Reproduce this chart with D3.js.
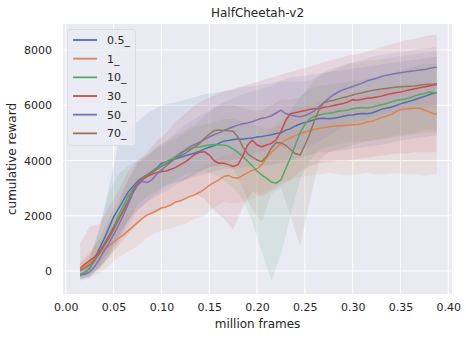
<!DOCTYPE html>
<html><head><meta charset="utf-8">
<script src="https://cdn.jsdelivr.net/npm/d3@7"></script>
<style>
html,body{margin:0;padding:0;background:#fff;}
svg{display:block;font-family:"DejaVu Sans",sans-serif;}
</style></head>
<body><svg id="c" width="466" height="338"></svg>
<script>
const title = "HalfCheetah-v2";
const seriesNames = ["0.5_", "1_", "10_", "30_", "50_", "70_"];
const colors = ["#4c72b0", "#dd8452", "#55a868", "#c44e52", "#8172b3", "#937860"];
const xTicks = [0.00,0.05,0.10,0.15,0.20,0.25,0.30,0.35,0.40];
const yTicks = [0,2000,4000,6000,8000];

const frames = [0.015,0.02,0.025,0.03,0.035,0.04,0.045,0.05,0.055,0.06,0.065,0.07,0.075,0.08,0.085,0.09,0.095,0.10,0.105,0.11,0.115,0.12,0.125,0.13,0.135,0.14,0.145,0.15,0.155,0.16,0.165,0.17,0.175,0.18,0.185,0.19,0.195,0.20,0.205,0.21,0.215,0.22,0.225,0.23,0.235,0.24,0.245,0.25,0.255,0.26,0.265,0.27,0.275,0.28,0.285,0.29,0.295,0.30,0.305,0.31,0.315,0.32,0.325,0.33,0.335,0.34,0.345,0.35,0.355,0.36,0.365,0.37,0.375,0.38,0.385,0.388];

const mean05 = [-150,-60,100,400,800,1150,1550,1950,2250,2550,2850,3050,3250,3380,3480,3600,3720,3900,3950,4000,4060,4120,4170,4220,4270,4340,4420,4480,4530,4620,4700,4720,4760,4780,4770,4800,4810,4850,4870,4900,4930,4980,5000,5100,5150,5250,5320,5380,5420,5480,5520,5530,5510,5530,5560,5600,5640,5650,5680,5700,5690,5720,5780,5850,5890,5930,5980,6050,6100,6150,6200,6260,6320,6380,6440,6460];
const mean1 = [0,150,300,450,600,780,900,1050,1180,1300,1450,1600,1750,1900,2020,2100,2180,2280,2320,2390,2500,2540,2620,2700,2760,2850,2960,3100,3200,3300,3420,3460,3380,3360,3460,3550,3640,3700,3850,4100,4300,4450,4620,4750,4820,4900,4970,5030,5080,5130,5160,5190,5220,5240,5260,5270,5280,5290,5300,5340,5400,5420,5480,5560,5600,5660,5760,5840,5870,5880,5890,5890,5830,5760,5690,5680];
const mean10 = [-120,-50,120,350,640,950,1250,1600,2000,2350,2700,2950,3200,3330,3450,3550,3700,3850,3950,4050,4150,4280,4350,4430,4480,4500,4530,4560,4580,4570,4560,4520,4420,4300,4150,3980,3800,3620,3480,3350,3220,3180,3300,3700,4100,4550,5000,5300,5500,5600,5650,5690,5710,5740,5780,5800,5830,5870,5900,5920,5900,5930,5980,6020,6050,6120,6170,6200,6230,6270,6340,6390,6420,6480,6460,6440];
const mean30 = [100,250,380,500,700,950,1250,1550,1850,2150,2500,2850,3150,3300,3420,3500,3560,3600,3620,3680,3750,3850,3950,4080,4220,4300,4320,4200,4000,3900,3900,3850,3780,3850,4150,4550,4740,4560,4500,4560,4620,4750,5050,5450,5700,5730,5770,5800,5850,5880,5860,5930,5950,5990,6030,6060,6120,6200,6180,6220,6250,6270,6300,6330,6380,6420,6450,6480,6520,6560,6600,6630,6660,6700,6730,6740];
const mean50 = [-150,-120,-30,150,420,720,1000,1320,1650,2000,2400,2800,3100,3250,3200,3300,3500,3650,3800,3950,4100,4250,4380,4500,4580,4660,4760,4850,4930,5000,5080,5150,5220,5280,5330,5360,5400,5470,5530,5560,5620,5720,5820,5700,5650,5600,5580,5620,5700,5800,5950,6100,6250,6380,6480,6560,6620,6680,6740,6800,6880,6930,6980,7040,7090,7110,7150,7180,7200,7230,7250,7280,7290,7330,7370,7380];
const mean70 = [40,100,220,400,620,900,1180,1500,1850,2200,2550,2900,3200,3350,3480,3560,3680,3780,3880,3980,4080,4180,4260,4380,4500,4620,4800,4950,5080,5100,5090,5080,5060,4850,4500,4250,4120,4020,3960,4150,4450,4650,4640,4550,4400,4250,4200,4550,4950,5450,5850,6100,6150,6180,6230,6280,6320,6370,6420,6450,6500,6530,6560,6590,6610,6630,6650,6670,6680,6690,6700,6720,6740,6760,6770,6780];

const bandFrames = [0.015,0.025,0.035,0.045,0.055,0.065,0.075,0.085,0.095,0.105,0.115,0.125,0.135,0.145,0.155,0.165,0.175,0.185,0.195,0.205,0.215,0.225,0.235,0.245,0.255,0.265,0.275,0.285,0.295,0.305,0.315,0.325,0.335,0.345,0.355,0.365,0.375,0.385,0.388];

const lo05 = [-300,-200,200,700,1300,1800,2200,2500,2800,3000,3200,3300,3400,3500,3600,3700,3700,3750,3800,3800,3850,3900,4000,4100,4200,4300,4300,4350,4400,4450,4500,4550,4600,4700,4750,4800,4850,4900,4900];
const hi05 = [0,500,1500,3000,4600,5200,5400,5700,5900,6050,6100,6200,6300,6400,6450,6500,6550,6650,6700,6750,6800,6900,7000,7050,7100,7150,7200,7250,7300,7350,7400,7450,7500,7550,7600,7650,7700,7750,7750];
const lo1 = [-300,-250,-100,200,500,700,900,1200,1400,1500,1600,1700,1900,2000,2300,2500,2450,2500,2600,2800,3000,3200,3300,3400,3450,3500,3550,3500,3450,3500,3550,3500,3500,3550,3500,3500,3450,3500,3500];
const hi1 = [300,700,1100,1500,1800,2100,2400,2700,2900,3000,3200,3400,3600,3800,4000,4200,4250,4400,4600,4800,5200,5500,5700,5900,6000,6100,6150,6200,6250,6300,6400,6500,6600,6700,6800,6850,6850,6800,6800];
const lo10 = [-250,-150,100,500,1100,1800,2400,2700,2900,3100,3300,3500,3600,3600,3500,3300,3000,2600,1800,700,-350,600,2000,3300,4000,4400,4500,4600,4650,4700,4700,4750,4800,4900,4950,5000,5100,5100,5100];
const hi10 = [100,400,1500,2800,3500,3800,4000,4200,4400,4600,4800,5000,5200,5300,5400,5500,5500,5400,5300,5200,5100,5300,5800,6300,6600,6700,6750,6800,6850,6900,6950,7000,7100,7200,7300,7400,7500,7500,7500];
const lo30 = [-200,-100,100,500,900,1300,1700,2000,2200,2300,2500,2600,2800,2600,2200,1900,1500,2300,2900,2700,2900,3100,3300,3600,3800,3900,3950,4000,4000,4050,4100,4150,4200,4250,4250,4300,4300,4300,4300];
const hi30 = [1000,1600,1700,2300,2900,3600,4000,4300,4700,5000,5400,5700,6000,6200,6350,6500,6600,6700,6800,6900,7000,7100,7200,7300,7400,7500,7600,7700,7800,7850,7950,8050,8150,8250,8350,8400,8500,8550,8550];
const lo50 = [-350,-250,100,500,1000,1600,2200,2500,2700,2900,3100,3300,3500,3700,3800,3900,4000,4100,4200,4300,4400,4500,4400,4400,4500,4700,4900,5100,5300,5400,5500,5600,5700,5750,5800,5850,5900,5950,5950];
const hi50 = [100,250,900,1700,2400,3300,3900,4100,4500,4700,5000,5300,5500,5700,5900,6100,6250,6400,6500,6600,6700,6850,6850,6850,6900,7050,7200,7350,7500,7600,7700,7800,7850,7900,7950,8000,8050,8100,8100];
const lo70 = [-250,-200,100,600,1200,1800,2400,2700,2900,3100,3200,3300,3500,3700,3800,3800,3700,3000,2200,1800,2800,3000,2000,900,2500,4000,4300,4400,4500,4600,4700,4750,4800,4850,4900,4950,5000,5000,5000];
const hi70 = [300,600,1200,1900,2600,3300,3900,4200,4500,4700,4900,5100,5300,5600,5900,6000,6000,5900,5800,5800,6000,6200,6200,6300,6700,7100,7300,7400,7500,7550,7600,7650,7700,7750,7800,7850,7900,7950,7950];

const means = [mean05, mean1, mean10, mean30, mean50, mean70];
const los = [lo05, lo1, lo10, lo30, lo50, lo70];
const his = [hi05, hi1, hi10, hi30, hi50, hi70];

const svg = d3.select("#c");
const m = {left: 63, right: 452, top: 24, bottom: 294};
const x = d3.scaleLinear().domain([-0.0029, 0.4039]).range([m.left, m.right]);
const y = d3.scaleLinear().domain([-833, 8941]).range([m.bottom, m.top]);
const txt = "#262626";

svg.append("rect").attr("x", m.left).attr("y", m.top).attr("width", m.right - m.left).attr("height", m.bottom - m.top).attr("fill", "#eaeaf2");

const grid = svg.append("g");
xTicks.forEach(t => grid.append("line").attr("x1", x(t)).attr("x2", x(t)).attr("y1", m.top).attr("y2", m.bottom).attr("stroke", "#fff").attr("stroke-width", 1));
yTicks.forEach(t => grid.append("line").attr("y1", y(t)).attr("y2", y(t)).attr("x1", m.left).attr("x2", m.right).attr("stroke", "#fff").attr("stroke-width", 1));

const xAxis = d3.axisBottom(x).tickValues(xTicks).tickFormat(d3.format(".2f")).tickSize(0).tickPadding(9);
const yAxis = d3.axisLeft(y).tickValues(yTicks).tickFormat(d3.format("d")).tickSize(0).tickPadding(11);
const gx = svg.append("g").attr("transform", `translate(0,${m.bottom})`).call(xAxis);
const gy = svg.append("g").attr("transform", `translate(${m.left},0)`).call(yAxis);
[gx, gy].forEach(g => { g.select(".domain").remove(); g.selectAll("text").attr("fill", txt).style("font-size", "11px").style("font-family", "DejaVu Sans"); });

const defs = svg.append("defs");
defs.append("clipPath").attr("id", "clip").append("rect").attr("x", m.left).attr("y", m.top).attr("width", m.right - m.left).attr("height", m.bottom - m.top);
const plot = svg.append("g").attr("clip-path", "url(#clip)");

seriesNames.forEach((n, i) => {
  const area = d3.area().x((d, j) => x(bandFrames[j])).y0((d, j) => y(los[i][j])).y1((d, j) => y(his[i][j]));
  plot.append("path").datum(bandFrames).attr("d", area).attr("fill", colors[i]).attr("fill-opacity", 0.12);
});
seriesNames.forEach((n, i) => {
  const line = d3.line().x((d, j) => x(frames[j])).y(d => y(d));
  plot.append("path").datum(means[i]).attr("d", line).attr("fill", "none").attr("stroke", colors[i]).attr("stroke-width", 1.5).attr("stroke-linejoin", "round");
});

svg.append("text").attr("x", (m.left + m.right) / 2).attr("y", 17).attr("text-anchor", "middle").attr("fill", txt).style("font-size", "12px").text(title);
svg.append("text").attr("x", (m.left + m.right) / 2).attr("y", 328).attr("text-anchor", "middle").attr("fill", txt).style("font-size", "12px").text("million frames");
svg.append("text").attr("transform", `translate(16,${(m.top + m.bottom) / 2}) rotate(-90)`).attr("text-anchor", "middle").attr("fill", txt).style("font-size", "12px").text("cumulative reward");

const lg = svg.append("g");
lg.append("rect").attr("x", 67.5).attr("y", 29.5).attr("width", 68).attr("height", 116).attr("rx", 3).attr("fill", "#ebebf3").attr("fill-opacity", 0.85).attr("stroke", "#dcdce4").attr("stroke-width", 1);
seriesNames.forEach((n, i) => {
  const cy = 40 + i * 18.67;
  lg.append("line").attr("x1", 73).attr("x2", 97).attr("y1", cy).attr("y2", cy).attr("stroke", colors[i]).attr("stroke-width", 1.8);
  lg.append("text").attr("x", 107).attr("y", cy + 4).attr("fill", txt).style("font-size", "11px").text(n);
});
</script></body></html>
